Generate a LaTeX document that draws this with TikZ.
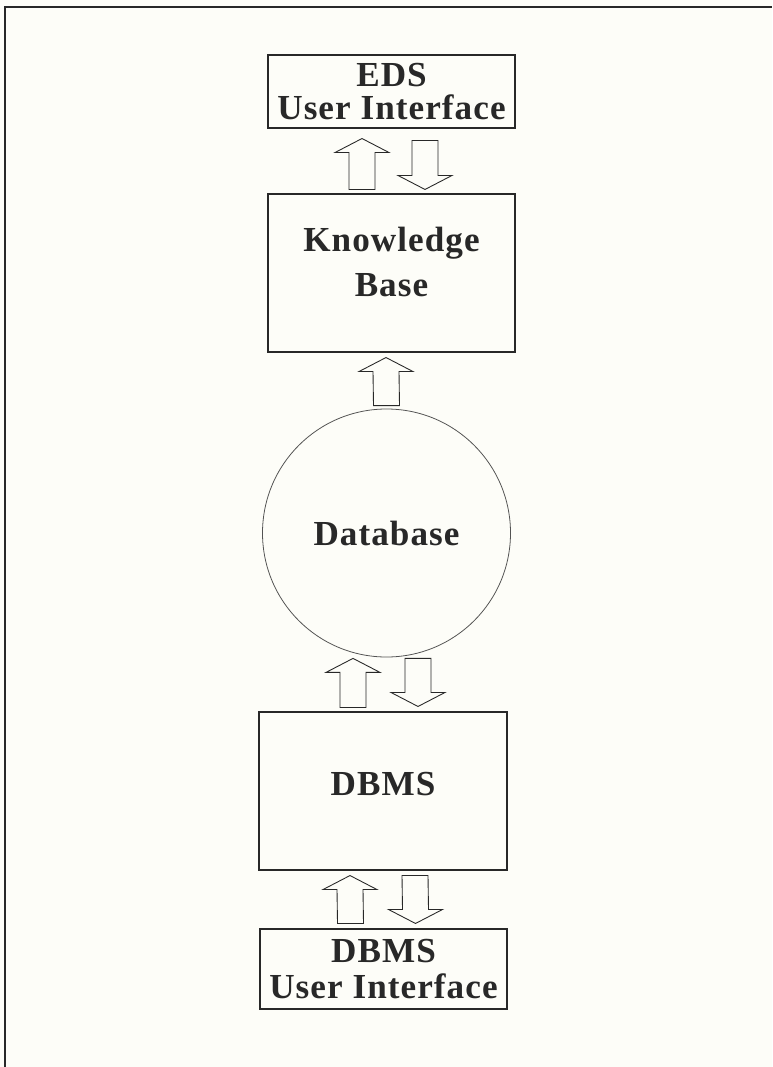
\documentclass[tikz,border=0pt]{standalone}
\usepackage{fontspec}
\setmainfont{Liberation Serif}
\newfontfamily\boxfont[LetterSpace=3]{Liberation Serif Bold}
\usetikzlibrary{calc}
\definecolor{paper}{RGB}{253,253,248}
\definecolor{ink}{RGB}{40,40,40}

\newcommand{\blkarr}[3]{%
  \draw[blk] ($(#1)+(-0.26,0)$) -- ($(#2)+(-0.26,#3)$) -- ($(#2)+(-0.54,#3)$) -- (#2)
    -- ($(#2)+(0.54,#3)$) -- ($(#2)+(0.26,#3)$) -- ($(#1)+(0.26,0)$) -- cycle;}

\begin{document}
\begin{tikzpicture}[
  box/.style={draw=ink, line width=0.6pt, minimum width=4.94cm, inner sep=0pt,
    align=center, text=ink},
  txt/.style={font=\boxfont\fontsize{20}{#1}\selectfont},
  blk/.style={draw=ink, line width=0.5pt, fill=paper}]
\fill[paper] (0,0) rectangle (15.44,-21.34);
\useasboundingbox (0,0) rectangle (15.44,-21.34);
\draw[ink, line width=1.1pt] (0.1,-21.34) -- (0.1,-0.14) -- (15.44,-0.14);

\node[box, txt=19, minimum height=1.46cm] (eds) at (7.83,-1.83) {EDS\\User Interface};
\node[box, txt=25.6, minimum height=3.16cm, text depth=0.44cm] (kb) at (7.83,-5.46) {Knowledge\\Base};
\node[circle, draw=ink!80, line width=0.45pt, minimum size=4.96cm, inner sep=0pt,
  text=ink, txt=20] (db) at (7.73,-10.66) {Database};
\node[box, txt=20, minimum width=4.96cm, minimum height=3.16cm, text depth=0.28cm] (dbms) at (7.66,-15.82) {DBMS};
\node[box, txt=20, minimum height=1.6cm] (dbui) at (7.67,-19.38) {DBMS\\User Interface};

\coordinate (a1s) at ($(kb.north)+(-0.59,0.08)$);
\coordinate (a1e) at ($(eds.south)+(-0.59,-0.2)$);
\coordinate (a2s) at ($(eds.south)+(0.67,-0.24)$);
\coordinate (a2e) at ($(kb.north)+(0.67,0.08)$);
\coordinate (a3s) at ($(db.north)+(0,0.06)$);
\coordinate (a3e) at ($(kb.south)+(-0.11,-0.1)$);
\coordinate (a4s) at ($(dbms.north)+(-0.6,0.08)$);
\coordinate (a4e) at ($(db.south)+(-0.67,-0.02)$);
\coordinate (a5s) at ($(db.south)+(0.63,-0.02)$);
\coordinate (a5e) at ($(dbms.north)+(0.7,0.1)$);
\coordinate (a6s) at ($(dbui.north)+(-0.66,0.1)$);
\coordinate (a6e) at ($(dbms.south)+(-0.66,-0.1)$);
\coordinate (a7s) at ($(dbms.south)+(0.64,-0.1)$);
\coordinate (a7e) at ($(dbui.north)+(0.64,0.1)$);

\blkarr{a1s}{a1e}{-0.28}
\blkarr{a2s}{a2e}{0.28}
\blkarr{a3s}{a3e}{-0.28}
\blkarr{a4s}{a4e}{-0.28}
\blkarr{a5s}{a5e}{0.28}
\blkarr{a6s}{a6e}{-0.28}
\blkarr{a7s}{a7e}{0.28}
\end{tikzpicture}
\end{document}
